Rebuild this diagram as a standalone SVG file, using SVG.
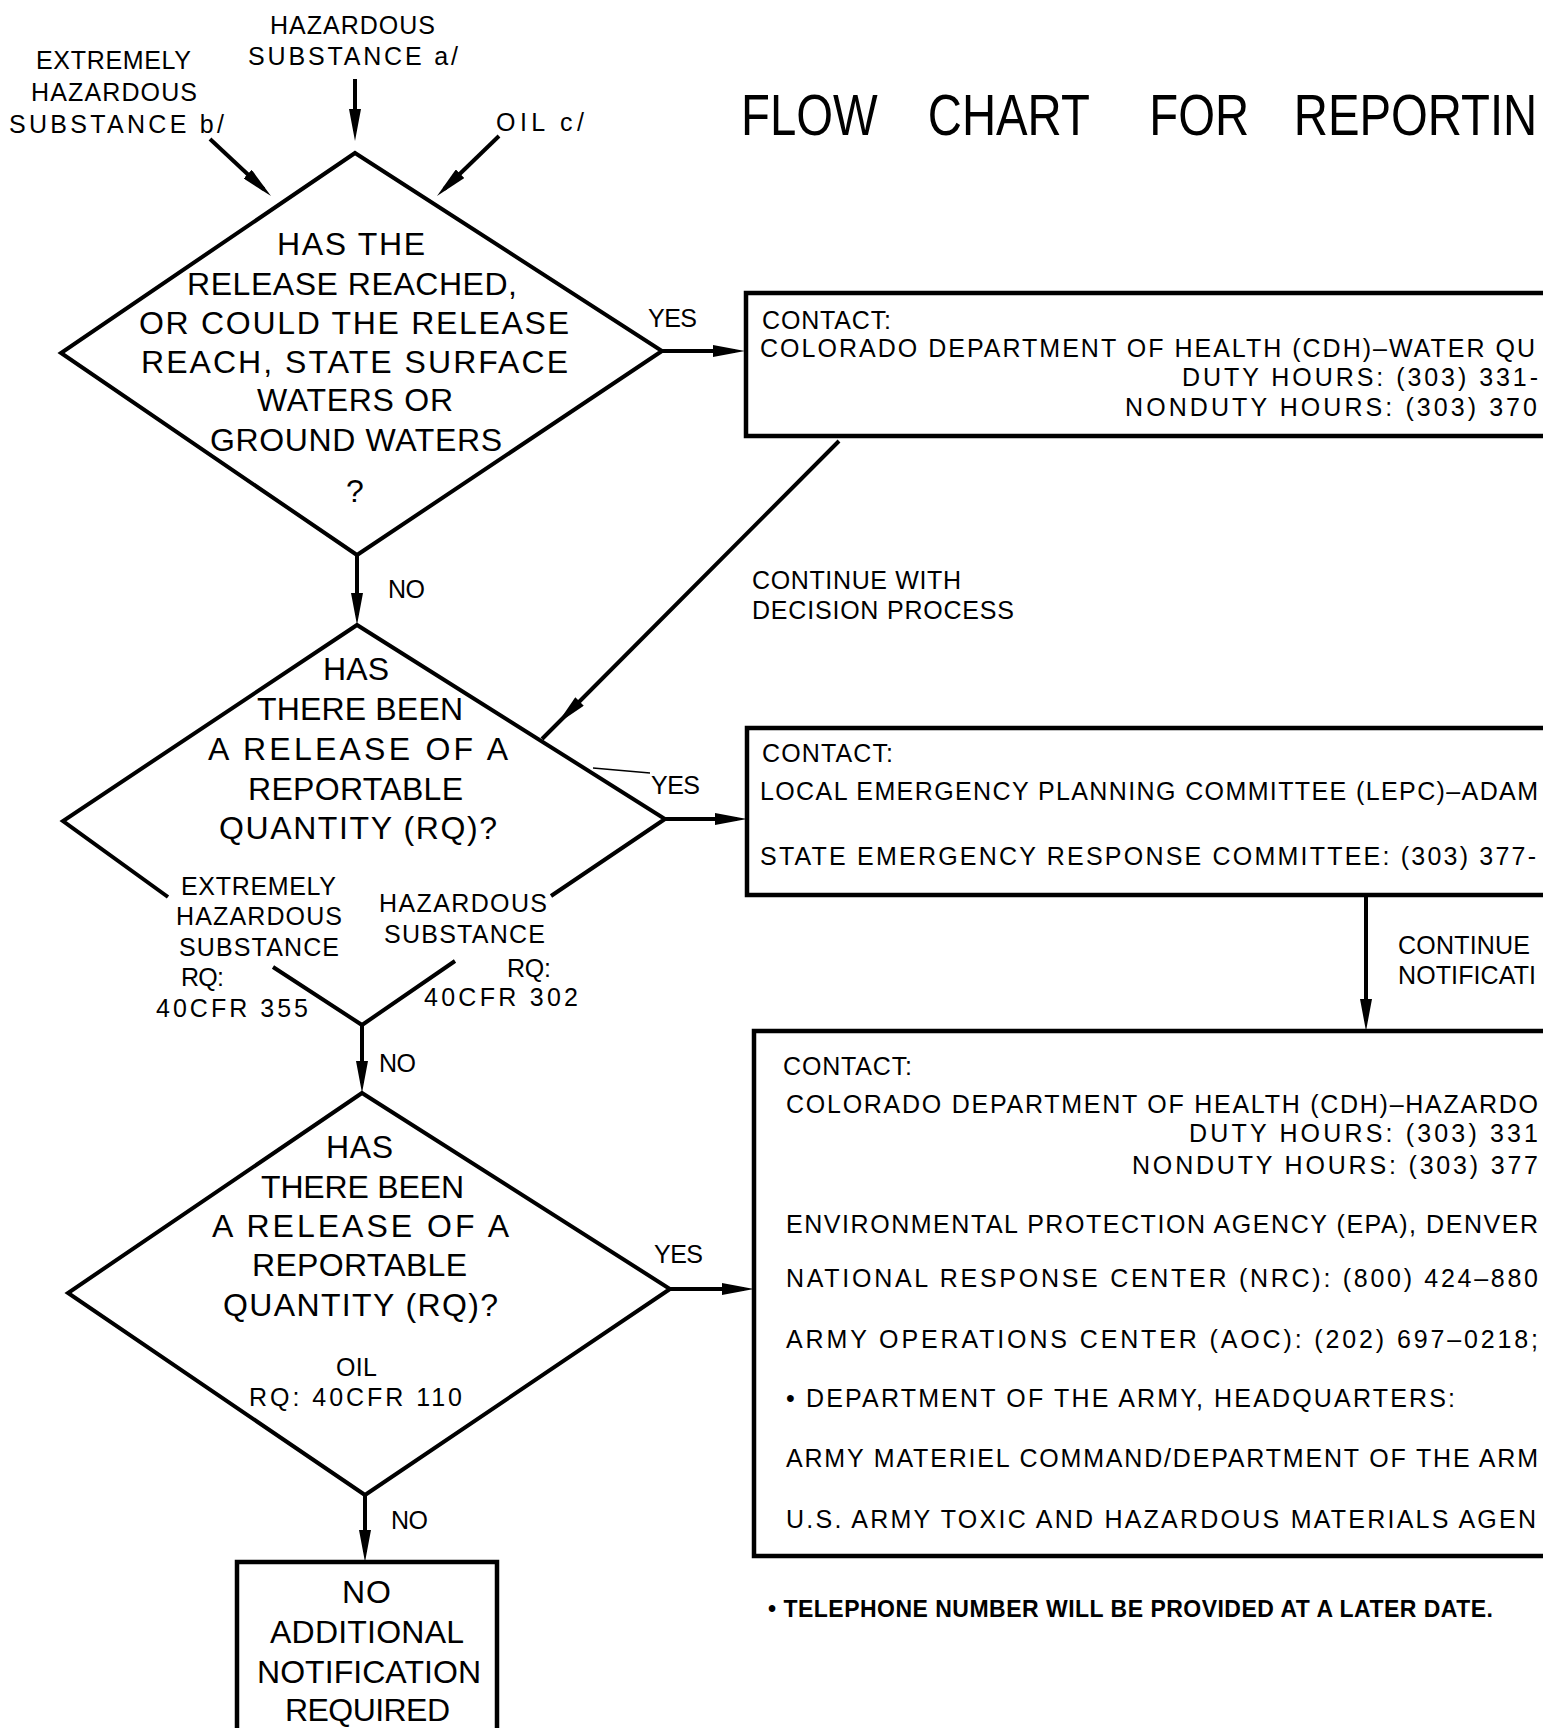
<svg xmlns="http://www.w3.org/2000/svg" width="1543" height="1728" viewBox="0 0 1543 1728">
<style>
.bg{fill:#fff}
.ln{fill:none;stroke:#000;stroke-width:4;stroke-linejoin:miter}
.bx{fill:none;stroke:#000;stroke-width:4.5}
.thin{fill:none;stroke:#000;stroke-width:1.5}
text{font-family:"Liberation Sans",Arial,sans-serif;fill:#000}
.d{font-size:32px}
.s{font-size:25px}
.b{font-size:25px}
.f{font-size:23px;font-weight:bold}
.ti{font-size:57px}
</style>
<defs>
<marker id="ah" viewBox="0 0 32 12" refX="22" refY="6" markerWidth="32" markerHeight="12" markerUnits="userSpaceOnUse" orient="auto">
<path d="M0,0 L32,6 L0,12 z" fill="#000"/>
</marker>
</defs>
<rect class="bg" x="0" y="0" width="1543" height="1728"/>

<g id="title">
<text class="ti" transform="translate(741 135) scale(0.83 1)"><tspan x="0">FLOW</tspan><tspan x="225">CHART</tspan><tspan x="492">FOR</tspan><tspan x="666">REPORTIN</tspan></text>
</g>

<g id="src-hazardous">
<text class="s" x="270" y="34" textLength="165">HAZARDOUS</text>
<text class="s" x="248" y="65" textLength="210">SUBSTANCE a/</text>
</g>
<g id="src-extremely">
<text class="s" x="36" y="69" textLength="155">EXTREMELY</text>
<text class="s" x="31" y="101" textLength="166">HAZARDOUS</text>
<text class="s" x="9" y="133" textLength="215">SUBSTANCE b/</text>
</g>
<g id="src-oil">
<text class="s" x="496" y="131" textLength="88">OIL c/</text>
</g>

<g id="decision-waters">
<polygon class="ln" points="355,153 662,351 357,555 61,353"/>
<text class="d" x="277" y="255" textLength="148">HAS THE</text>
<text class="d" x="187" y="295" textLength="330">RELEASE REACHED,</text>
<text class="d" x="139" y="334" textLength="430">OR COULD THE RELEASE</text>
<text class="d" x="141" y="373" textLength="427">REACH, STATE SURFACE</text>
<text class="d" x="257" y="411" textLength="196">WATERS OR</text>
<text class="d" x="210" y="451" textLength="292">GROUND WATERS</text>
<text class="d" x="355" y="502" text-anchor="middle">?</text>
</g>

<g id="box-cdh-water">
<rect class="bx" x="746" y="293" width="900" height="143"/>
<text class="b" x="762" y="329" textLength="129">CONTACT:</text>
<text class="b" x="760" y="357" textLength="775">COLORADO DEPARTMENT OF HEALTH (CDH)–WATER QU</text>
<text class="b" x="1182" y="386" textLength="356">DUTY HOURS: (303) 331-</text>
<text class="b" x="1125" y="416" textLength="412">NONDUTY HOURS: (303) 370</text>
</g>

<g id="decision-rq-hs">
<polyline class="ln" points="168,897 63,821 357,625 665,819 551,896"/>
<polyline class="ln" points="273,967 362,1025 455,961"/>
<text class="d" x="323" y="680" textLength="66">HAS</text>
<text class="d" x="257" y="720" textLength="206">THERE BEEN</text>
<text class="d" x="208" y="760" textLength="300">A RELEASE OF A</text>
<text class="d" x="248" y="800" textLength="215">REPORTABLE</text>
<text class="d" x="219" y="839" textLength="278">QUANTITY (RQ)?</text>
<text class="s" x="181" y="895" textLength="155">EXTREMELY</text>
<text class="s" x="176" y="925" textLength="166">HAZARDOUS</text>
<text class="s" x="179" y="956" textLength="160">SUBSTANCE</text>
<text class="s" x="181" y="986" textLength="43">RQ:</text>
<text class="s" x="156" y="1017" textLength="152">40CFR 355</text>
<text class="s" x="379" y="912" textLength="168">HAZARDOUS</text>
<text class="s" x="384" y="943" textLength="161">SUBSTANCE</text>
<text class="s" x="507" y="977" textLength="44">RQ:</text>
<text class="s" x="424" y="1006" textLength="154">40CFR 302</text>
</g>

<g id="box-lepc">
<rect class="bx" x="747" y="728" width="900" height="167"/>
<text class="b" x="762" y="762" textLength="131">CONTACT:</text>
<text class="b" x="760" y="800" textLength="778">LOCAL EMERGENCY PLANNING COMMITTEE (LEPC)–ADAM</text>
<text class="b" x="760" y="865" textLength="776">STATE EMERGENCY RESPONSE COMMITTEE: (303) 377-</text>
</g>

<g id="decision-rq-oil">
<polygon class="ln" points="362,1093 670,1289 365,1495 68,1293"/>
<text class="d" x="326" y="1158" textLength="67">HAS</text>
<text class="d" x="261" y="1198" textLength="203">THERE BEEN</text>
<text class="d" x="212" y="1237" textLength="297">A RELEASE OF A</text>
<text class="d" x="252" y="1276" textLength="215">REPORTABLE</text>
<text class="d" x="223" y="1316" textLength="275">QUANTITY (RQ)?</text>
<text class="s" x="336" y="1376" textLength="41">OIL</text>
<text class="s" x="249" y="1406" textLength="213">RQ:  40CFR 110</text>
</g>

<g id="box-cdh-hazardous">
<rect class="bx" x="754" y="1031" width="900" height="525"/>
<text class="b" x="783" y="1075" textLength="129">CONTACT:</text>
<text class="b" x="786" y="1113" textLength="752">COLORADO DEPARTMENT OF HEALTH (CDH)–HAZARDO</text>
<text class="b" x="1189" y="1142" textLength="349">DUTY HOURS: (303) 331</text>
<text class="b" x="1132" y="1174" textLength="406">NONDUTY HOURS: (303) 377</text>
<text class="b" x="786" y="1233" textLength="752">ENVIRONMENTAL PROTECTION AGENCY (EPA), DENVER</text>
<text class="b" x="786" y="1287" textLength="752">NATIONAL RESPONSE CENTER (NRC): (800) 424–880</text>
<text class="b" x="786" y="1348" textLength="752">ARMY OPERATIONS CENTER (AOC): (202) 697–0218;</text>
<text class="b" x="786" y="1407" textLength="669">• DEPARTMENT OF THE ARMY, HEADQUARTERS:</text>
<text class="b" x="786" y="1467" textLength="752">ARMY MATERIEL COMMAND/DEPARTMENT OF THE ARM</text>
<text class="b" x="786" y="1528" textLength="750">U.S. ARMY TOXIC AND HAZARDOUS MATERIALS AGEN</text>
</g>

<g id="box-no-notification">
<rect class="bx" x="237" y="1562" width="260" height="300"/>
<text class="d" x="342" y="1603" textLength="49">NO</text>
<text class="d" x="270" y="1643" textLength="194">ADDITIONAL</text>
<text class="d" x="257" y="1683" textLength="224">NOTIFICATION</text>
<text class="d" x="285" y="1721" textLength="165">REQUIRED</text>
</g>

<g id="footnote">
<text class="f" x="768" y="1617" textLength="725">• TELEPHONE NUMBER WILL BE PROVIDED AT A LATER DATE.</text>
</g>

<g id="connectors">
<path class="ln" d="M355,79 L355,131" marker-end="url(#ah)"/>
<path class="ln" d="M210,139 L263.7,189.2" marker-end="url(#ah)"/>
<path class="ln" d="M499,136 L444.2,189" marker-end="url(#ah)"/>
<path class="ln" d="M662,351 L735,351" marker-end="url(#ah)"/>
<path class="ln" d="M839,441 L564,717 L542,739" marker-mid="url(#ah)"/>
<path class="ln" d="M357,555 L357,615" marker-end="url(#ah)"/>
<path class="ln" d="M665,819 L737,819" marker-end="url(#ah)"/>
<path class="ln" d="M362,1025 L362,1083" marker-end="url(#ah)"/>
<path class="ln" d="M1366,895 L1366,1021" marker-end="url(#ah)"/>
<path class="ln" d="M670,1289 L744,1289" marker-end="url(#ah)"/>
<path class="ln" d="M365,1495 L365,1552" marker-end="url(#ah)"/>
<path class="thin" d="M593,768 L650,773"/>
<text class="s" x="648" y="327" textLength="49">YES</text>
<text class="s" x="388" y="598" textLength="37">NO</text>
<text class="s" x="752" y="589" textLength="209">CONTINUE WITH</text>
<text class="s" x="752" y="619" textLength="262">DECISION PROCESS</text>
<text class="s" x="651" y="794" textLength="49">YES</text>
<text class="s" x="379" y="1072" textLength="37">NO</text>
<text class="s" x="1398" y="954" textLength="132">CONTINUE</text>
<text class="s" x="1398" y="984" textLength="138">NOTIFICATI</text>
<text class="s" x="654" y="1263" textLength="49">YES</text>
<text class="s" x="391" y="1529" textLength="37">NO</text>
</g>
</svg>
